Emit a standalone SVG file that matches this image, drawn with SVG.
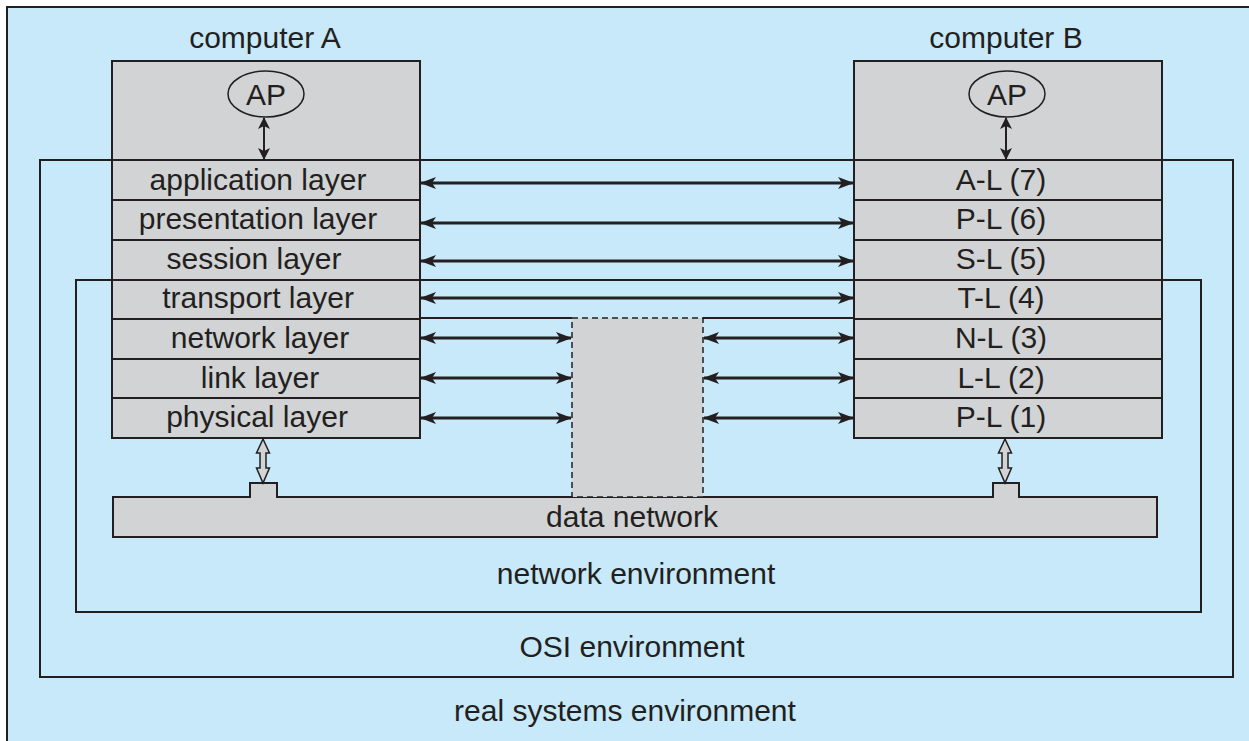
<svg xmlns="http://www.w3.org/2000/svg" width="1249" height="741" viewBox="0 0 1249 741">
<style>
.ln{fill:none;stroke:#231f20;stroke-width:2}
.box{fill:#d1d3d4;stroke:#231f20;stroke-width:2}
.t{font-family:"Liberation Sans",Arial,sans-serif;font-size:30px;fill:#231f20;text-anchor:middle}
.arr{stroke:#231f20;stroke-width:3;fill:none;marker-start:url(#ah);marker-end:url(#ah)}
.arr2{stroke:#231f20;stroke-width:2;fill:none;marker-start:url(#ah2);marker-end:url(#ah2)}
.hol{fill:#d1d3d4;stroke:#231f20;stroke-width:1.5;stroke-linejoin:miter}
</style>
<defs>
<marker id="ah" viewBox="0 0 16 12" refX="15" refY="6" markerWidth="16" markerHeight="12" markerUnits="userSpaceOnUse" orient="auto-start-reverse">
<path d="M0,0 L16,6 L0,12 L4,6 Z" fill="#231f20"/>
</marker>
<marker id="ah2" viewBox="0 0 12 12" refX="11" refY="6" markerWidth="12" markerHeight="12" markerUnits="userSpaceOnUse" orient="auto-start-reverse">
<path d="M0,0 L12,6 L0,12 L3,6 Z" fill="#231f20"/>
</marker>
</defs>
<rect x="0" y="0" width="1249" height="741" fill="#ffffff"/>
<g id="real-env">
<rect x="7" y="7" width="1260" height="760" fill="#c7e9f9" stroke="#231f20" stroke-width="2"/>
<text class="t" x="625" y="721">real systems environment</text>
</g>
<g id="osi-env">
<rect class="ln" x="40" y="160" width="1193" height="517"/>
<text class="t" x="632" y="657">OSI environment</text>
</g>
<g id="network-env">
<rect class="ln" x="76" y="280" width="1125" height="332"/>
<text class="t" x="636" y="584">network environment</text>
</g>
<g id="data-network">
<path class="box" d="M113,497 L250,497 L250,483 L277,483 L277,497 L993,497 L993,483 L1019,483 L1019,497 L1157,497 L1157,537 L113,537 Z"/>
<text class="t" x="632" y="527">data network</text>
</g>
<g id="subnet">
<rect x="572" y="318" width="131" height="179" fill="#d1d3d4" stroke="#231f20" stroke-width="1.5" stroke-dasharray="6,4"/>
</g>
<g id="computer-A">
<text class="t" x="265" y="48">computer A</text>
<rect class="box" x="112" y="61" width="308" height="99"/>
<ellipse cx="266" cy="94" rx="38" ry="23" fill="none" stroke="#231f20" stroke-width="1.5"/>
<text class="t" x="266" y="105">AP</text>
<rect class="box" x="112" y="160" width="308" height="40"/>
<rect class="box" x="112" y="200" width="308" height="40"/>
<rect class="box" x="112" y="240" width="308" height="40"/>
<rect class="box" x="112" y="280" width="308" height="39"/>
<rect class="box" x="112" y="319" width="308" height="40"/>
<rect class="box" x="112" y="359" width="308" height="39"/>
<rect class="box" x="112" y="398" width="308" height="40"/>
<text class="t" x="258" y="190">application layer</text>
<text class="t" x="258" y="229">presentation layer</text>
<text class="t" x="254" y="269">session layer</text>
<text class="t" x="258" y="308">transport layer</text>
<text class="t" x="260" y="348">network layer</text>
<text class="t" x="260" y="388">link layer</text>
<text class="t" x="257" y="427">physical layer</text>
</g>
<g id="computer-B">
<text class="t" x="1006" y="48">computer B</text>
<rect class="box" x="854" y="61" width="308" height="99"/>
<ellipse cx="1007" cy="94" rx="38" ry="23" fill="none" stroke="#231f20" stroke-width="1.5"/>
<text class="t" x="1007" y="105">AP</text>
<rect class="box" x="854" y="160" width="308" height="40"/>
<rect class="box" x="854" y="200" width="308" height="40"/>
<rect class="box" x="854" y="240" width="308" height="40"/>
<rect class="box" x="854" y="280" width="308" height="39"/>
<rect class="box" x="854" y="319" width="308" height="40"/>
<rect class="box" x="854" y="359" width="308" height="39"/>
<rect class="box" x="854" y="398" width="308" height="40"/>
<text class="t" x="1001" y="190">A-L (7)</text>
<text class="t" x="1001" y="229">P-L (6)</text>
<text class="t" x="1001" y="269">S-L (5)</text>
<text class="t" x="1001" y="308">T-L (4)</text>
<text class="t" x="1001" y="348">N-L (3)</text>
<text class="t" x="1001" y="388">L-L (2)</text>
<text class="t" x="1001" y="427">P-L (1)</text>
</g>
<g id="connectors">
<line class="ln" x1="420" y1="318" x2="572" y2="318"/>
<line class="ln" x1="703" y1="318" x2="854" y2="318"/>
<line class="arr2" x1="264" y1="118" x2="264" y2="159"/>
<line class="arr2" x1="1006" y1="118" x2="1006" y2="159"/>
<line class="arr" x1="421" y1="183" x2="853" y2="183"/>
<line class="arr" x1="421" y1="223" x2="853" y2="223"/>
<line class="arr" x1="421" y1="261" x2="853" y2="261"/>
<line class="arr" x1="421" y1="298" x2="853" y2="298"/>
<line class="arr" x1="421" y1="338" x2="571" y2="338"/>
<line class="arr" x1="421" y1="378" x2="571" y2="378"/>
<line class="arr" x1="421" y1="418" x2="571" y2="418"/>
<line class="arr" x1="704" y1="338" x2="853" y2="338"/>
<line class="arr" x1="704" y1="378" x2="853" y2="378"/>
<line class="arr" x1="704" y1="418" x2="853" y2="418"/>
<path class="hol" d="M263,439 L269.5,453 L266,453 L266,468 L269.5,468 L263,483 L256.5,468 L260,468 L260,453 L256.5,453 Z"/>
<path class="hol" d="M1005,439 L1011.5,453 L1008,453 L1008,468 L1011.5,468 L1005,483 L998.5,468 L1002,468 L1002,453 L998.5,453 Z"/>
</g>
</svg>
